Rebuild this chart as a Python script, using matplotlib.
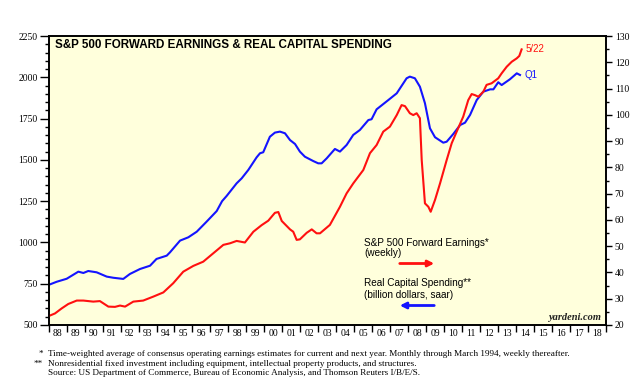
import matplotlib.pyplot as plt
import numpy as np

# real capital spending (billion dollars, saar), left axis
capex_years = [1988.0, 1988.45, 1989.0, 1989.65, 1989.93, 1990.2, 1990.67, 1991.23, 1991.6,
               1992.15, 1992.52, 1993.08, 1993.64, 1994.0, 1994.57, 1994.75, 1995.31, 1995.77,
               1996.24, 1996.79, 1997.35, 1997.65, 1997.9, 1998.46, 1998.74, 1999.11, 1999.57,
               1999.76, 1999.94, 2000.31, 2000.59, 2000.87, 2001.15, 2001.43, 2001.71, 2001.98,
               2002.26, 2002.72, 2003.0, 2003.19, 2003.47, 2003.93, 2004.21, 2004.58, 2004.95,
               2005.32, 2005.79, 2005.97, 2006.25, 2006.9, 2007.37, 2007.92, 2008.1, 2008.38,
               2008.66, 2008.94, 2009.22, 2009.5, 2009.96, 2010.15, 2010.52, 2010.9, 2011.17,
               2011.45, 2011.82, 2012.19, 2012.57, 2012.75, 2013.02, 2013.21, 2013.67, 2014.05,
               2014.23]
capex_values = [743, 762, 780, 823, 815, 827, 819, 793, 786,
                779, 809, 839, 859, 900, 920, 940, 1011, 1031,
                1065, 1126, 1190, 1250, 1281, 1358, 1388, 1439, 1515,
                1540, 1546, 1640, 1665, 1671, 1661, 1620, 1596, 1550,
                1519, 1493, 1479, 1479, 1509, 1566, 1550, 1590, 1651,
                1681, 1741, 1746, 1806, 1862, 1903, 1994, 2004, 1994,
                1943, 1843, 1691, 1637, 1604, 1610, 1657, 1711, 1725,
                1772, 1862, 1913, 1927, 1927, 1970, 1953, 1988, 2024,
                2014]

# S&P 500 forward earnings (weekly), right axis
earn_years = [1988.0, 1988.35, 1988.72, 1989.09, 1989.56, 1989.93, 1990.48, 1990.85, 1991.32,
              1991.69, 1991.97, 1992.25, 1992.71, 1993.26, 1993.82, 1994.38, 1994.93, 1995.49,
              1996.05, 1996.6, 1997.16, 1997.72, 1998.09, 1998.46, 1998.92, 1999.39, 1999.85,
              2000.22, 2000.59, 2000.78, 2000.97, 2001.43, 2001.61, 2001.8, 2001.98, 2002.36,
              2002.64, 2002.91, 2003.1, 2003.65, 2004.21, 2004.58, 2004.95, 2005.51, 2005.88,
              2006.25, 2006.62, 2006.99, 2007.37, 2007.64, 2007.83, 2008.1, 2008.29, 2008.48,
              2008.66, 2008.76, 2008.94, 2009.13, 2009.26, 2009.5, 2009.78, 2010.15, 2010.43,
              2010.7, 2011.07, 2011.35, 2011.54, 2011.72, 2011.91, 2012.19, 2012.37, 2012.65,
              2013.02, 2013.21, 2013.49, 2013.77, 2014.05, 2014.19, 2014.32]
earn_values = [23.4, 24.4, 26.3, 28.0, 29.3, 29.3, 28.9, 29.1, 27.0,
               26.9, 27.4, 27.0, 28.9, 29.3, 30.8, 32.4, 35.9, 40.3,
               42.5, 44.1, 47.3, 50.5, 51.1, 52.0, 51.4, 55.5, 58.0,
               59.7, 62.7, 63.0, 59.6, 56.4, 55.5, 52.4, 52.6, 55.1,
               56.4, 54.9, 54.9, 58.1, 65.0, 70.1, 73.9, 79.0, 85.4,
               88.5, 93.6, 95.5, 99.9, 103.7, 103.3, 100.6, 99.9, 100.6,
               98.7, 82.8, 66.3, 65.0, 63.1, 67.6, 73.9, 82.8, 89.2,
               93.5, 99.3, 105.6, 107.9, 107.5, 106.9, 108.8, 111.4, 112.0,
               113.9, 115.8, 118.3, 120.2, 121.5, 122.4, 124.9]

year_labels = ["%02d" % (y % 100) for y in range(1988, 2019)]

footnotes = [
    ("*", "Time-weighted average of consensus operating earnings estimates for current and next year. Monthly through March 1994, weekly thereafter."),
    ("**", "Nonresidential fixed investment including equipment, intellectual property products, and structures."),
    ("", "Source: US Department of Commerce, Bureau of Economic Analysis, and Thomson Reuters I/B/E/S."),
]

W, H = 639, 387
SERIF = "Liberation Serif"
SANS = "Liberation Sans"
RED = "#FF1010"
BLUE = "#1414FF"


def fx(x):
    return x / W


def fy(y):
    return 1 - y / H


fig = plt.figure(figsize=(W / 100, H / 100), dpi=100)
ax = fig.add_axes([fx(48.7), fy(325), (605.7 - 48.7) / W, (325 - 36) / H])
ax.set_facecolor("#FFFFDC")
ax2 = ax.twinx()

ax.plot(capex_years, capex_values, color=BLUE, lw=1.5)
ax2.plot(earn_years, earn_values, color=RED, lw=1.5)

ax.set_xlim(1988, 2019)
ax.set_ylim(500, 2250)
ax2.set_ylim(20, 130)

ax.set_xticks(np.arange(1988, 2020))
ax.set_xticklabels([])
ax.set_xticks(np.arange(1988, 2019) + 0.5, minor=True)
ax.set_xticklabels(year_labels, minor=True, fontsize=6.9, family=SERIF)
ax.tick_params(axis="x", which="major", length=5, width=1, direction="out")
ax.tick_params(axis="x", which="minor", length=0, pad=3)

ax.set_yticks(np.arange(500, 2251, 250))
ax.set_yticks(np.arange(500, 2251, 50), minor=True)
ax.tick_params(axis="y", which="major", length=6.5, width=1, labelsize=6.9, pad=1.5)
ax.tick_params(axis="y", which="minor", length=3.2, width=1)
for lab in ax.get_yticklabels():
    lab.set_family(SERIF)

ax2.set_yticks(np.arange(20, 131, 10))
ax2.set_yticks(np.arange(20, 131, 5), minor=True)
ax2.tick_params(axis="y", which="major", length=4.5, width=1, labelsize=6.9, pad=2)
ax2.tick_params(axis="y", which="minor", length=2, width=1)
for lab in ax2.get_yticklabels():
    lab.set_family(SERIF)

for a in (ax, ax2):
    for s in a.spines.values():
        s.set_linewidth(1.2)

ax.text(0.012, 0.969, "S&P 500 FORWARD EARNINGS & REAL CAPITAL SPENDING",
        transform=ax.transAxes, fontsize=8.35, fontweight="bold", family=SANS,
        va="center", ha="left")

ax2.text(earn_years[-1] + 0.2, earn_values[-1], "5/22", color=RED, fontsize=7,
         family=SANS, va="center")
ax2.text(capex_years[-1] + 0.25, 20 + (capex_values[-1] - 500) * 110 / 1750, "Q1",
         color=BLUE, fontsize=7, family=SANS, va="center")

# legend-like labels with arrows
fig.text(fx(364), fy(243), "S&P 500 Forward Earnings*", fontsize=7.2, family=SANS, va="center")
fig.text(fx(364), fy(253), "(weekly)", fontsize=7.2, family=SANS, va="center")
fig.text(fx(364), fy(283.5), "Real Capital Spending**", fontsize=7.2, family=SANS, va="center")
fig.text(fx(364), fy(294.5), "(billion dollars, saar)", fontsize=7.2, family=SANS, va="center")
ax.annotate("", xy=(fx(437), fy(263.5)), xytext=(fx(397), fy(263.5)),
            xycoords="figure fraction", textcoords="figure fraction",
            arrowprops=dict(arrowstyle="-|>", color=RED, lw=2, mutation_scale=9))
ax.annotate("", xy=(fx(397), fy(305.5)), xytext=(fx(437), fy(305.5)),
            xycoords="figure fraction", textcoords="figure fraction",
            arrowprops=dict(arrowstyle="-|>", color=BLUE, lw=2, mutation_scale=9))

fig.text(fx(601), fy(318), "yardeni.com", fontsize=7.5, family=SERIF, style="italic",
         fontweight="bold", ha="right", va="center", color="#222222")

for i, (mark, line) in enumerate(footnotes):
    yy = 354 + i * 9.5
    fig.text(fx(43), fy(yy), mark, fontsize=6.55, family=SERIF, ha="right", va="center")
    fig.text(fx(48.5), fy(yy), line, fontsize=6.55, family=SERIF, ha="left", va="center")

fig.savefig("out.png", dpi=100)
